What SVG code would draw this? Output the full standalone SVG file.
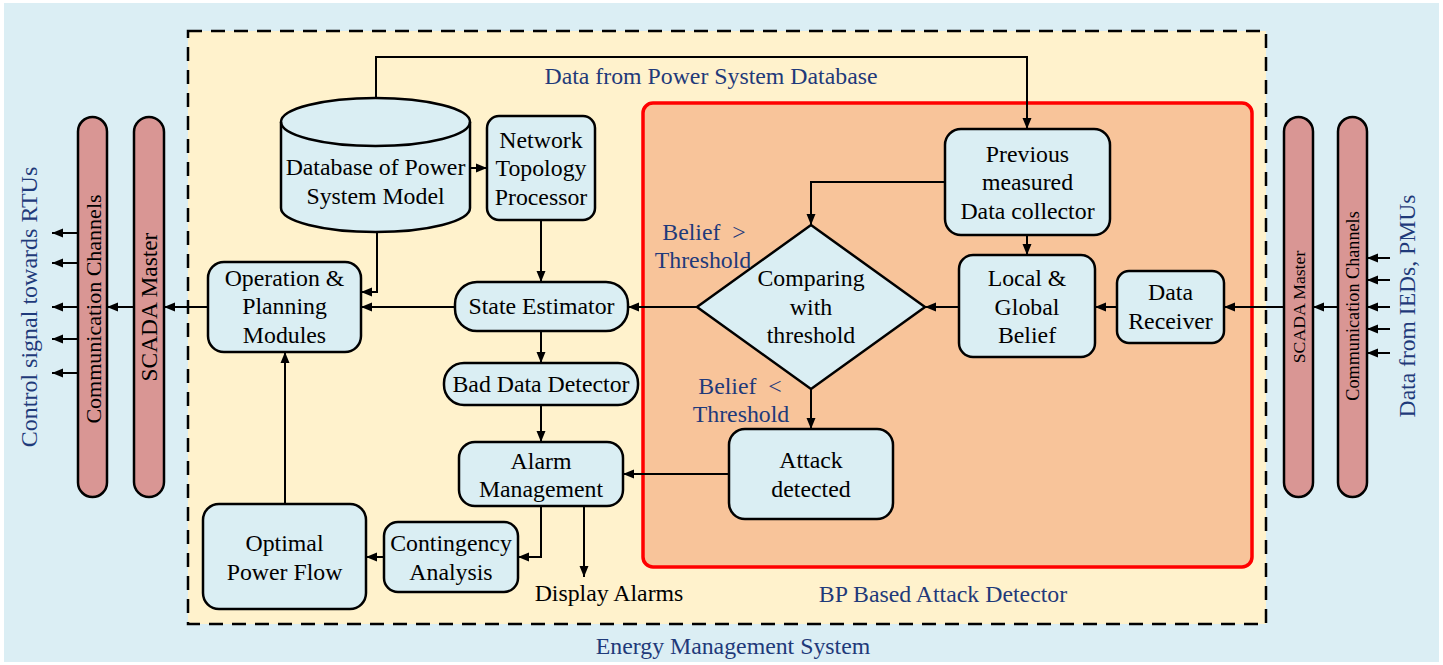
<svg xmlns="http://www.w3.org/2000/svg" width="1443" height="665" viewBox="0 0 1443 665">
<defs>
<marker id="ah" markerUnits="userSpaceOnUse" markerWidth="12" markerHeight="10" refX="11" refY="5" orient="auto">
<path d="M0,0.5 L11,5 L0,9.5 Z" fill="#000"/>
</marker>
<style>
.node{fill:#DAEEF3;stroke:#000;stroke-width:2.5}
.pill{fill:#D99694;stroke:#000;stroke-width:2.5}
text{font-family:'Liberation Serif','DejaVu Serif',serif}
.t{font-size:23.8px;fill:#000;text-anchor:middle;dominant-baseline:central}
.b{font-size:23.8px;fill:#1F3A7A;text-anchor:middle;dominant-baseline:central}
.c{fill:none;stroke:#000;stroke-width:2;marker-end:url(#ah)}
.l{fill:none;stroke:#000;stroke-width:2}
</style>
</defs>
<rect x="0" y="0" width="1443" height="665" fill="#FFFFFF"/>
<rect x="4" y="3" width="1435" height="659" fill="#DBEEF4"/>
<rect x="188" y="31" width="1078" height="593" fill="#FFF2CC" stroke="#000" stroke-width="2.5" stroke-dasharray="14,9"/>
<rect x="643" y="103" width="609" height="464" rx="10" fill="#F8C49A" stroke="#FF0000" stroke-width="3.5"/>

<g font-family="Liberation Serif, DejaVu Serif, serif">
<g id="left-comm"><rect class="pill" x="78" y="117" width="29" height="380" rx="14.5"/>
<text class="t" style="font-size:22px" transform="translate(93,309) rotate(-90)">Communication Channels</text></g>
<g id="left-scada"><rect class="pill" x="134" y="117" width="30" height="380" rx="15"/>
<text class="t" style="font-size:23.4px" transform="translate(149,307) rotate(-90)">SCADA Master</text></g>
<g id="right-scada"><rect class="pill" x="1284" y="117" width="29" height="380" rx="14.5"/>
<text class="t" style="font-size:17.7px" transform="translate(1298.5,307) rotate(-90)">SCADA Master</text></g>
<g id="right-comm"><rect class="pill" x="1338" y="117" width="29" height="380" rx="14.5"/>
<text class="t" style="font-size:18.2px" transform="translate(1352.5,306) rotate(-90)">Communication Channels</text></g>

<text class="b" style="font-size:24px" transform="translate(29,307) rotate(-90)">Control signal towards RTUs</text>
<text class="b" style="font-size:23.6px" transform="translate(1407,306) rotate(-90)">Data from IEDs, PMUs</text>

<g id="database"><path class="node" d="M281,122 L281,208 A94.5,24 0 0 0 470,208 L470,122 A94.5,24 0 0 0 281,122 Z"/>
<path class="l" style="stroke-width:2.5" d="M281,122 A94.5,24 0 0 0 470,122"/>
<text class="t" x="375.5" y="167">Database of Power</text>
<text class="t" x="375.5" y="196">System Model</text></g>

<g id="ntp"><rect class="node" x="487" y="116" width="108" height="104" rx="12"/>
<text class="t" x="541" y="140">Network</text><text class="t" x="541" y="168">Topology</text><text class="t" x="541" y="197">Processor</text></g>

<g id="opm"><rect class="node" x="208" y="262" width="153" height="90" rx="16"/>
<text class="t" x="284.5" y="278">Operation &amp;</text><text class="t" x="284.5" y="306">Planning</text><text class="t" x="284.5" y="335">Modules</text></g>

<g id="se"><rect class="node" x="455" y="282" width="173" height="49" rx="22"/>
<text class="t" x="541.5" y="306">State Estimator</text></g>

<g id="bdd"><rect class="node" x="444" y="363" width="194" height="42" rx="20"/>
<text class="t" x="541" y="384">Bad Data Detector</text></g>

<g id="am"><rect class="node" x="459" y="442" width="164" height="64" rx="16"/>
<text class="t" x="541" y="461">Alarm</text><text class="t" x="541" y="489">Management</text></g>

<g id="ca"><rect class="node" x="384" y="522" width="134" height="70" rx="14"/>
<text class="t" x="451" y="543">Contingency</text><text class="t" x="451" y="572">Analysis</text></g>

<g id="opf"><rect class="node" x="203" y="504" width="163" height="105" rx="16"/>
<text class="t" x="284.5" y="543">Optimal</text><text class="t" x="284.5" y="572">Power Flow</text></g>

<g id="prev"><rect class="node" x="945" y="129" width="165" height="106" rx="16"/>
<text class="t" x="1027.5" y="154">Previous</text><text class="t" x="1027.5" y="182">measured</text><text class="t" x="1027.5" y="211">Data collector</text></g>

<g id="diamond"><path class="node" d="M811,225 L925,307 L811,389 L697,307 Z"/>
<text class="t" x="811" y="278">Comparing</text><text class="t" x="811" y="307">with</text><text class="t" x="811" y="335">threshold</text></g>

<g id="lgb"><rect class="node" x="959" y="255" width="136" height="102" rx="14"/>
<text class="t" x="1027" y="278">Local &amp;</text><text class="t" x="1027" y="307">Global</text><text class="t" x="1027" y="335">Belief</text></g>

<g id="dr"><rect class="node" x="1117" y="271" width="107" height="72" rx="12"/>
<text class="t" x="1170.5" y="292">Data</text><text class="t" x="1170.5" y="321">Receiver</text></g>

<g id="attack"><rect class="node" x="729" y="429" width="164" height="90" rx="16"/>
<text class="t" x="811" y="460">Attack</text><text class="t" x="811" y="489">detected</text></g>

<g id="labels">
<text class="b" x="711" y="76">Data from Power System Database</text>
<text class="b" x="704" y="232" xml:space="preserve">Belief  &gt;</text>
<text class="b" x="703" y="260">Threshold</text>
<text class="b" x="740" y="386" xml:space="preserve">Belief  &lt;</text>
<text class="b" x="741" y="414">Threshold</text>
<text class="t" x="609" y="593">Display Alarms</text>
<text class="b" x="943" y="594">BP Based Attack Detector</text>
<text class="b" x="733" y="646">Energy Management System</text>
</g>
</g>

<g id="connectors">
<path class="c" d="M78,233 H52"/>
<path class="c" d="M78,263 H52"/>
<path class="c" d="M78,307 H52"/>
<path class="c" d="M78,339 H52"/>
<path class="c" d="M78,373 H52"/>
<path class="c" d="M134,307 H107"/>
<path class="c" d="M208,307 H164"/>
<path class="c" d="M1390,258 H1367"/>
<path class="c" d="M1390,280 H1367"/>
<path class="c" d="M1390,307 H1367"/>
<path class="c" d="M1390,329 H1367"/>
<path class="c" d="M1390,353 H1367"/>
<path class="c" d="M1338,307 H1313"/>
<path class="c" d="M1284,307 H1224"/>
<path class="c" d="M1117,307 H1095"/>
<path class="c" d="M959,307 H925"/>
<path class="c" d="M697,307 H628"/>
<path class="c" d="M455,307 H361"/>
<path class="c" d="M470,168 H487"/>
<path class="c" d="M541,220 V282"/>
<path class="c" d="M541,331 V363"/>
<path class="c" d="M541,405 V442"/>
<path class="c" d="M377,232 V292 H361"/>
<path class="c" d="M376,98 V57 H1027 V129"/>
<path class="c" d="M1027,235 V255"/>
<path class="c" d="M945,182 H811 V225"/>
<path class="c" d="M811,389 V429"/>
<path class="c" d="M729,474 H623"/>
<path class="c" d="M541,506 V557 H518"/>
<path class="c" d="M584,506 V577"/>
<path class="c" d="M384,557 H366"/>
<path class="c" d="M285,504 V352"/>
</g>
</svg>
